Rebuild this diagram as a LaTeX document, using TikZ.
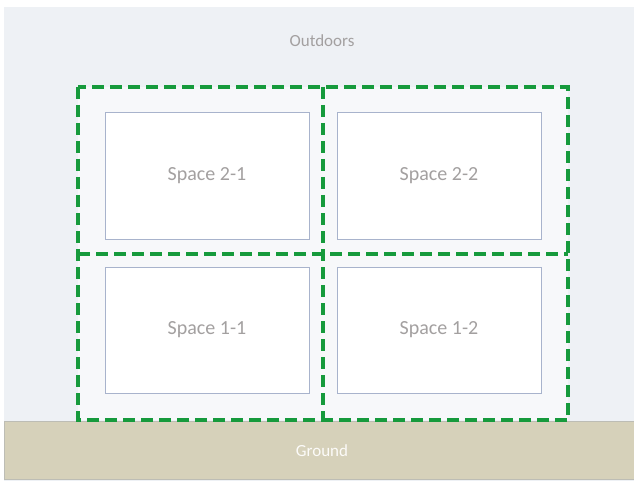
\documentclass[tikz,border=0pt]{standalone}
\usepackage{fontspec}
\setmainfont{Carlito}
\definecolor{outdoorbg}{HTML}{EEF1F5}
\definecolor{innerbg}{HTML}{F7F8FA}
\definecolor{groundbg}{HTML}{D6D1BA}
\definecolor{groundline}{HTML}{BDBDB5}
\definecolor{zonegreen}{HTML}{169A3C}
\definecolor{boxline}{HTML}{A8B3CC}
\definecolor{labelgrey}{HTML}{A3A0A0}
\tikzset{
  spacebox/.style={draw=boxline, line width=1pt, fill=white},
  zoneline/.style={draw=zonegreen, line width=3.8pt, dash pattern=on 12pt off 6pt},
  spacelabel/.style={text=labelgrey, font=\fontsize{20}{23}\selectfont},
  biglabel/.style={text=labelgrey, font=\fontsize{17}{20}\selectfont},
}
\begin{document}
\begin{tikzpicture}[x=1pt,y=-1pt]
\useasboundingbox (0,0) rectangle (634,481);
% outdoors
\fill[outdoorbg] (4,7) rectangle (634,481);
\node[biglabel] (outdoors) at (322,41) {Outdoors};
% building interior
\fill[innerbg] (78,87) rectangle (568,420);
% ground
\draw[groundline, fill=groundbg, line width=0.8pt] (4,421) rectangle (634,479);
\node[text=white!92!groundbg, font=\fontsize{17}{20}\selectfont] (ground) at (322,451) {Ground};
% spaces
\draw[spacebox] (105,112.5) rectangle (309,239) node[midway, spacelabel] (s21) {Space 2-1};
\draw[spacebox] (337,112.5) rectangle (541,239) node[midway, spacelabel] (s22) {Space 2-2};
\draw[spacebox] (105,267) rectangle (309,393) node[midway, spacelabel] (s11) {Space 1-1};
\draw[spacebox] (337,267) rectangle (541,393) node[midway, spacelabel] (s12) {Space 1-2};
% zones
\coordinate (tl) at (78,87);
\coordinate (tr) at (568,87);
\coordinate (bl) at (78,420);
\coordinate (br) at (568,420);
\coordinate (tm) at (323,87);
\coordinate (bm) at (323,420);
\coordinate (ml) at (78,254);
\coordinate (mr) at (568,254);
\draw[zoneline] (tl) rectangle (br);
\draw[zoneline] (tm) -- (bm);
\draw[zoneline] (ml) -- (mr);
\end{tikzpicture}
\end{document}
